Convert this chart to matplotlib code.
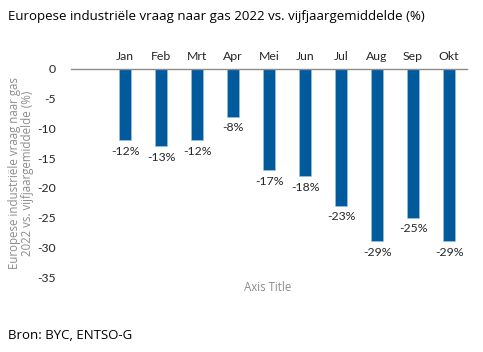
import matplotlib
matplotlib.use("Agg")
import matplotlib.pyplot as plt

months = ["Jan", "Feb", "Mrt", "Apr", "Mei", "Jun", "Jul", "Aug", "Sep", "Okt"]
values = [-12, -13, -12, -8, -17, -18, -23, -29, -25, -29]
yticks = [0, -5, -10, -15, -20, -25, -30, -35]

fig = plt.figure(figsize=(4.83, 3.52), dpi=100)
ax = fig.add_axes([0.147, 0.213, 0.82, 0.591])
x = list(range(len(months)))
ax.bar(x, values, width=0.34, color="#005A9C", edgecolor="#9fc3e6", linewidth=0.4, zorder=2)
ax.set_xlim(-1.5, 9.5)
ax.set_ylim(-35, 0)
for s in ["left", "right", "bottom"]:
    ax.spines[s].set_visible(False)
ax.spines["top"].set_color("#8c8c8c")
ax.spines["top"].set_linewidth(1.0)
ax.xaxis.tick_top()
ax.set_xticks(x)
ax.set_xticklabels(months, family="Lato", fontsize=8.8, color="#262626")
ax.set_yticks(yticks)
ax.set_yticklabels([str(t) for t in yticks], family="Lato", fontsize=8.8, color="#262626")
ax.tick_params(length=0, pad=5)
ax.tick_params(axis="y", pad=11)
for xi, v in zip(x, values):
    ax.annotate(f"{v}%", (xi, v), xytext=(0, -4), textcoords="offset points",
                ha="center", va="top", family="Lato", fontsize=8.8, color="#262626")
ax.set_ylabel("Europese industriële vraag naar gas\n2022 vs. vijfjaargemiddelde (%)",
              family="Open Sans", fontsize=8.3, color="#8c8c8c", labelpad=2, linespacing=1.0)
fig.text(0.555, 0.183, "Axis Title", family="Open Sans", fontsize=8.3, color="#8c8c8c",
         ha="center", va="center")
fig.text(0.017, 0.952, "Europese industriële vraag naar gas 2022 vs. vijfjaargemiddelde (%)",
         family="Open Sans", fontsize=9.5, color="black", ha="left", va="center")
fig.text(0.017, 0.048, "Bron: BYC, ENTSO-G", family="Open Sans", fontsize=9.5,
         color="black", ha="left", va="center")
fig.savefig("out.png", dpi=100, facecolor="white")
